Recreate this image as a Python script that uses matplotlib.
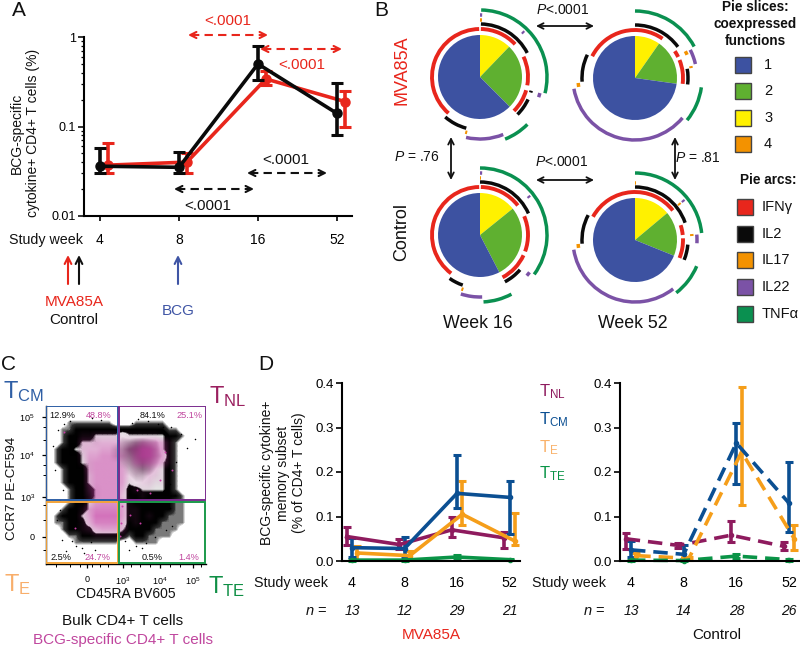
import numpy as np
import matplotlib
matplotlib.use('Agg')
import matplotlib.pyplot as plt
from matplotlib.patches import Arc, Rectangle
from matplotlib.colors import LinearSegmentedColormap, to_rgb

plt.rcParams['font.family'] = ['Liberation Sans', 'DejaVu Sans']
plt.rcParams['mathtext.fontset'] = 'custom'
plt.rcParams['mathtext.rm'] = 'Liberation Sans'
plt.rcParams['mathtext.it'] = 'Liberation Sans:italic'
plt.rcParams['mathtext.default'] = 'regular'

# ---------- Panel A data ----------
WEEKS = ['4', '8', '16', '52']
A_MVA = [0.037, 0.040, 0.34, 0.19]
A_MVA_LO = [0.030, 0.030, 0.29, 0.10]
A_MVA_HI = [0.066, 0.050, 0.42, 0.25]
A_CTL = [0.036, 0.035, 0.50, 0.14]
A_CTL_LO = [0.030, 0.030, 0.33, 0.08]
A_CTL_HI = [0.058, 0.052, 0.80, 0.31]

# ---------- Panel B data (slices: 3, 2, 1 clockwise from top; arcs in degrees clockwise from top) ----------
SLICE_NAMES = ['1', '2', '3', '4']
ARC_NAMES = ['IFN\u03b3', 'IL2', 'IL17', 'IL22', 'TNF\u03b1']
MVA16_SLICES = [12.2, 25.3, 62.5]
MVA52_SLICES = [9.7, 17.5, 72.8]
CTL16_SLICES = [14.2, 28.2, 57.6]
CTL52_SLICES = [13.9, 17.2, 68.9]
MVA16_ARCS = {'IFN\u03b3': [(1, 47), (65, 100), (106, 135), (221, 359)],
              'IL2': [(1, 63), (105, 107), (115, 135), (195, 221)],
              'IL17': [(0, 2), (193, 195)],
              'IL22': [(0, 2), (43, 45), (105, 109), (158, 193)],
              'TNF\u03b1': [(1, 104), (135, 158)]}
MVA52_ARCS = {'IFN\u03b3': [(297, 395), (56, 64), (68, 97)],
              'IL2': [(0, 54), (80, 97), (266, 296)],
              'IL17': [(62, 66), (78, 80), (261, 265)],
              'IL22': [(63, 77), (130, 260)],
              'TNF\u03b1': [(0, 62), (98, 129)]}
CTL16_ARCS = {'IFN\u03b3': [(1, 52), (67, 110), (115, 152), (217, 359)],
              'IL2': [(0, 66), (131, 152), (199, 215)],
              'IL17': [(0, 1), (197, 199)],
              'IL22': [(0, 2), (51, 53), (127, 131), (178, 198)],
              'TNF\u03b1': [(0, 126), (152, 177)]}
CTL52_ARCS = {'IFN\u03b3': [(299, 412), (72, 84), (88, 112)],
              'IL2': [(0, 71), (95, 112), (266, 298)],
              'IL17': [(0, 1), (50, 52), (84, 86), (262, 266)],
              'IL22': [(50, 52), (85, 93), (142, 261)],
              'TNF\u03b1': [(0, 84), (113, 142)]}

# ---------- Panel C data: density on a coarse grid (digit = shade) ----------
BULK_GRID = [
    "000000000000000000000000", "000000000000000000000000",
    "000111111100011111000000", "001122222222222222110000",
    "001222233334333333221000", "001223334445677653210000",
    "012233444456899863210000", "012223444456789864210000",
    "012223344445678753210000", "001222344444567643210000",
    "001222344444455433210000", "001222344444344333210000",
    "000122234444223333210000", "000122234444222222221000",
    "000122334444222222211000", "001222344444222222211000",
    "012223444444222222111000", "011222444444222221111000",
    "001222244443222211110000", "000112222222122111100000",
    "000011111110011110000000", "000000000000000000000000",
    "000000000000000000000000", "000000000000000000000000"]
SPECIFIC_GRID = [
    "000000000000000000000000", "000000000000000000000000",
    "000000000000000000000000", "000000000000000000000000",
    "000001122221111110000000", "000003344443346664100000",
    "000003445554579975100000", "000002556665479975100000",
    "000001566664367764100000", "000000566665233431000000",
    "000000466665222321000000", "000000466665112211000000",
    "000000366664011100000000", "000000266663001000000000",
    "000000256664100000000000", "000001577775110000000000",
    "000002588885110100000000", "000001477774010000000000",
    "000001245553000000000000", "000000011111000000000000",
    "000000000000000000000000", "000000000000000000000000",
    "000000000000000000000000", "000000000000000000000000"]
# a few isolated events
STRAY_BLACK_X = [195, 187, 181, 171, 176, 170, 53, 55, 58, 60, 57, 62, 64, 66, 70, 76, 84, 95, 101, 92, 132, 138, 148, 158, 163, 167, 170, 172, 125, 136, 146, 155, 166, 60, 63, 72, 82, 91, 129, 142]
STRAY_BLACK_Y = [439, 448, 434, 427, 462, 484, 446, 470, 430, 500, 520, 540, 424, 551, 421, 546, 553, 550, 420, 418, 423, 419, 421, 424, 427, 490, 508, 526, 541, 546, 543, 537, 530, 510, 490, 541, 548, 542, 550, 548]
STRAY_PINK_X = [122, 130, 121, 140, 160, 172, 120, 137, 150, 165, 64, 75]
STRAY_PINK_Y = [506, 515, 523, 523, 480, 470, 536, 490, 493, 452, 432, 528]
C_XTICKS = ['0', '$10^3$', '$10^4$', '$10^5$']
C_YTICKS = ['$10^5$', '$10^4$', '$10^3$', '0']
C_BULK_PCT = ['12.9%', '84.1%', '2.5%', '0.5%']
C_SPEC_PCT = ['48.8%', '25.1%', '24.7%', '1.4%']

# ---------- Panel D data ----------
D_NAMES = ['NL', 'CM', 'E', 'TE']
L_TNL = [0.055, 0.037, 0.070, 0.052]; L_TNL_LO = [0.035, 0.028, 0.053, 0.030]; L_TNL_HI = [0.077, 0.050, 0.100, 0.065]
L_TCM = [0.030, 0.028, 0.152, 0.143]; L_TCM_LO = [0.008, 0.008, 0.118, 0.060]; L_TCM_HI = [0.052, 0.055, 0.238, 0.180]
L_TE = [0.018, 0.012, 0.105, 0.045]; L_TE_LO = [0.003, 0.003, 0.080, 0.037]; L_TE_HI = [0.033, 0.022, 0.180, 0.107]
L_TTE = [0.002, 0.002, 0.009, 0.003]; L_TTE_LO = [0.001, 0.001, 0.005, 0.002]; L_TTE_HI = [0.004, 0.003, 0.014, 0.005]
R_TNL = [0.050, 0.035, 0.058, 0.033]; R_TNL_LO = [0.028, 0.030, 0.043, 0.025]; R_TNL_HI = [0.064, 0.040, 0.090, 0.042]
R_TCM = [0.025, 0.015, 0.265, 0.130]; R_TCM_LO = [0.008, 0.004, 0.172, 0.065]; R_TCM_HI = [0.045, 0.035, 0.310, 0.222]
R_TE = [0.012, 0.006, 0.245, 0.050]; R_TE_LO = [0.002, 0.002, 0.125, 0.025]; R_TE_HI = [0.018, 0.010, 0.390, 0.082]
R_TTE = [0.002, 0.001, 0.011, 0.003]; R_TTE_LO = [0.001, 0.000, 0.006, 0.001]; R_TTE_HI = [0.003, 0.002, 0.015, 0.004]
L_N = ['13', '12', '29', '21']
R_N = ['13', '14', '28', '26']

RED = '#E8261C'; BLUEARROW = '#3F55A5'; PINK = '#C0469E'
C_TNL = '#8E1B5E'; C_TCM = '#0B4F92'; C_TE = '#F59E1A'; C_TTE = '#0A9447'
SLICE_COLORS = ['#3D52A1', '#5FB030', '#FFF100', '#F39200']
ARC_COLORS = ['#E8261C', '#0A0A0A', '#F39200', '#7B52A6', '#0A9050']
ARC_RADII = [48, 53, 57, 62, 67]

W, H = 800, 650
fig = plt.figure(figsize=(8, 6.5), dpi=100)


def box(l, t, r, b, **kw):
    return fig.add_axes([l / W, 1 - b / H, (r - l) / W, (b - t) / H], **kw)


ov = fig.add_axes([0, 0, 1, 1], zorder=20)
ov.set_xlim(0, W); ov.set_ylim(H, 0); ov.axis('off'); ov.patch.set_alpha(0)


def T(x, y, s, size=10, color='#111111', ha='center', va='center', **kw):
    ov.text(x, y, s, fontsize=size, color=color, ha=ha, va=va, **kw)


def arrow(x0, y0, x1, y1, color='#111111', style='<->', lw=1.3, ms=11):
    ov.annotate('', xy=(x1, y1), xytext=(x0, y0),
                arrowprops=dict(arrowstyle=style, color=color, lw=lw, mutation_scale=ms,
                                shrinkA=0, shrinkB=0))


def dashed(x0, x1, y, color):
    ov.plot([x0 + 3, x1 - 3], [y, y], color=color, lw=1.5, ls=(0, (4, 2.5)))
    arrow(x0 + 7, y, x0, y, color=color, style='->', lw=1.5, ms=11)
    arrow(x1 - 7, y, x1, y, color=color, style='->', lw=1.5, ms=11)


# ---------- Panel A ----------
axA = box(84, 37, 352, 216)
axA.set_yscale('log')
axA.set_ylim(0.01, 1)
axA.set_xlim(-0.2025, 3.19)
xA = np.arange(4)
for vals, lo, hi, col, off, z in [(A_MVA, A_MVA_LO, A_MVA_HI, RED, 0.1, 2), (A_CTL, A_CTL_LO, A_CTL_HI, '#0A0A0A', 0, 3)]:
    v = np.array(vals)
    axA.errorbar(xA + off, v, yerr=[v - np.array(lo), np.array(hi) - v], color=col, lw=2.6,
                 elinewidth=2.6, capsize=4, capthick=2.2, marker='o', ms=6.5, zorder=z, clip_on=False)
for s in ['top', 'right']:
    axA.spines[s].set_visible(False)
for s in ['left', 'bottom']:
    axA.spines[s].set_linewidth(1.5)
axA.set_yticks([0.01, 0.1, 1])
axA.set_yticklabels(['0.01', '0.1', '1'], fontsize=9)
axA.tick_params(axis='y', which='major', length=4, width=1.2, pad=2, color='#111111')
axA.tick_params(axis='y', which='minor', length=2.5, width=0.9)
axA.set_xticks(xA)
axA.set_xticklabels(WEEKS, fontsize=10)
axA.tick_params(axis='x', length=3.5, width=1.2, pad=9)
T(46, 240, 'Study week', 10.3)
T(19, 10, 'A', 15)
T(25, 133, 'BCG-specific\ncytokine+ CD4+ T cells (%)', 10, rotation=90, linespacing=1.25)
T(228, 21, '<.0001', 11, RED); T(302, 65, '<.0001', 11, RED)
T(286, 160, '<.0001', 11); T(208, 206, '<.0001', 11)
dashed(188, 268, 35, RED); dashed(260, 342, 49, RED)
dashed(174, 254, 189, '#111111'); dashed(247, 327, 173, '#111111')
arrow(68, 284, 68, 255, RED, '->', 1.5, 12)
arrow(79, 284, 79, 255, '#111111', '->', 1.5, 12)
arrow(178, 284, 178, 255, BLUEARROW, '->', 1.5, 12)
T(74, 302, 'MVA85A', 11, RED); T(74, 320, 'Control', 11)
T(178, 311, 'BCG', 11, BLUEARROW)

# ---------- Panel B ----------


def pie_panel(cx, cy, slices, arcs):
    half = 72
    ax = box(cx - half, cy - half, cx + half, cy + half)
    ax.pie(slices, colors=SLICE_COLORS[2::-1], startangle=90, counterclock=False, radius=42,
           wedgeprops=dict(linewidth=0))
    ax.set_xlim(-half, half); ax.set_ylim(-half, half)
    ax.set_aspect('equal'); ax.axis('off')
    for name, col, r in zip(ARC_NAMES, ARC_COLORS, ARC_RADII):
        for a0, a1 in arcs[name]:
            p = Arc((0, 0), 2 * r, 2 * r, theta1=90 - a1, theta2=90 - a0, color=col,
                    lw=2.8 if name == 'IFN\u03b3' else 2.5, capstyle='butt')
            ax.add_patch(p)


pie_panel(480, 77, MVA16_SLICES, MVA16_ARCS)
pie_panel(635, 78, MVA52_SLICES, MVA52_ARCS)
pie_panel(480, 235, CTL16_SLICES, CTL16_ARCS)
pie_panel(635, 240, CTL52_SLICES, CTL52_ARCS)
T(381, 10, 'B', 15)
T(402, 70, 'MVA85A', 13, RED, rotation=90)
T(402, 232, 'Control', 13, rotation=90)
T(478, 324, 'Week 16', 12.8); T(633, 324, 'Week 52', 12.8)
T(563, 10, '$\\mathit{P}$<.0001', 10); T(562, 162, '$\\mathit{P}$<.0001', 10)
T(417, 157, '$\\mathit{P}$ = .76', 10); T(698, 158, '$\\mathit{P}$ = .81', 10)
arrow(536, 26, 594, 26, ms=10); arrow(536, 180, 594, 180, ms=10)
arrow(451, 137, 451, 180, ms=10); arrow(675, 137, 675, 180, ms=10)
T(755, 24, 'Pie slices:\ncoexpressed\nfunctions', 9.8, fontweight='bold', linespacing=1.28)
T(768, 180, 'Pie arcs:', 9.8, fontweight='bold')
for name, col, yc in zip(SLICE_NAMES, SLICE_COLORS, [65, 91, 118, 144]):
    ov.add_patch(Rectangle((735, yc - 8), 16, 16, fc=col, ec='#444444', lw=1))
    T(764, yc, name, 10.5, ha='left')
for name, col, yc in zip(ARC_NAMES, ARC_COLORS, [207, 234, 260, 287, 314]):
    ov.add_patch(Rectangle((737, yc - 8), 16, 16, fc=col, ec='#444444', lw=1))
    T(762, yc, name, 10.5, ha='left')

# ---------- Panel C ----------
axC = box(46, 406, 206, 564)
extent = (46, 206, 566, 406)
bulk_cmap = LinearSegmentedColormap.from_list('bulk', [
    (0 / 9, '#ffffff'), (0.6 / 9, '#ffffff'), (1.2 / 9, '#303030'), (2 / 9, '#000000'), (2.6 / 9, '#000000'),
    (3 / 9, '#e4e4e4'), (4 / 9, '#f0f0f0'),
    (5 / 9, '#c4c4c4'), (6 / 9, '#a0a0a0'), (7 / 9, '#7c7c7c'), (8 / 9, '#555555'), (9 / 9, '#383838')])
bulk = np.array([[int(ch) for ch in row] for row in BULK_GRID], dtype=float)
spec = np.array([[int(ch) for ch in row] for row in SPECIFIC_GRID], dtype=float)
axC.imshow(bulk, cmap=bulk_cmap, vmin=0, vmax=9, extent=extent, aspect='auto', interpolation='bilinear', zorder=1)
rgba = np.zeros(spec.shape + (4,))
rgba[..., :3] = to_rgb('#C83FA6')
rgba[..., 3] = np.clip(spec / 9.0, 0, 1) * 0.8
axC.imshow(rgba, extent=extent, aspect='auto', interpolation='bilinear', zorder=2)
axC.scatter(STRAY_BLACK_X, STRAY_BLACK_Y, s=1.2, c='#000000', lw=0, zorder=3)
axC.scatter(STRAY_PINK_X, STRAY_PINK_Y, s=2, c='#C83FA6', lw=0, zorder=3)
axC.set_xlim(46, 206); axC.set_ylim(564, 406)
axC.set_xticks([87, 123, 160, 193]); axC.set_xticklabels(C_XTICKS, fontsize=6.5)
axC.set_yticks([417, 455, 497, 537]); axC.set_yticklabels(C_YTICKS, fontsize=6.5)
axC.tick_params(length=3, width=0.9, pad=5)
axC.set_xticks([56, 70, 80, 92, 100, 108, 131, 140, 150, 170, 180, 201], minor=True)
axC.set_yticks([427, 440, 465, 475, 505, 520, 550], minor=True)
axC.tick_params(which='minor', length=2, width=0.7)
for s in ['top', 'right']:
    axC.spines[s].set_visible(False)
for s in ['left', 'bottom']:
    axC.spines[s].set_linewidth(1.0)
for (x0, y0, x1, y1, col) in [(46.5, 406, 117.7, 500, '#2F5FA5'), (119.3, 406, 205.5, 500, '#7B2D8E'),
                              (46.5, 502, 117.7, 562.7, '#F2A33A'), (119.3, 502, 205, 562.7, '#1B9A4B')]:
    axC.add_patch(Rectangle((x0, y0), x1 - x0, y1 - y0, fc='none', ec=col, lw=1.4, zorder=4))
for (x, y), s in zip([(62, 415), (153, 415), (61, 557), (152, 557)], C_BULK_PCT):
    T(x, y, s, 6.6)
for (x, y), s in zip([(98.5, 415), (190, 415), (97.5, 557), (189, 557)], C_SPEC_PCT):
    T(x, y, s, 6.6, PINK)
T(8, 364, 'C', 15)
T(3, 392, 'T$_{CM}$', 17, '#2F5FA5', ha='left')
T(209, 397, 'T$_{NL}$', 17, '#9A1F5F', ha='left')
T(4, 585, 'T$_{E}$', 17, '#F8AE6B', ha='left')
T(208, 587, 'T$_{TE}$', 17, '#0F8F45', ha='left')
T(12, 488, 'CCR7 PE-CF594', 9.7, rotation=90)
T(126, 594, 'CD45RA BV605', 10)
T(123, 621, 'Bulk CD4+ T cells', 11)
T(123, 640, 'BCG-specific CD4+ T cells', 11, PINK)

# ---------- Panel D ----------


def panel_d(l, r, x0, unit, series, dash, offs):
    ax = box(l, 383, r, 561)
    ax.set_xlim((l - x0) / unit, (r - x0) / unit)
    ax.set_ylim(0, 0.4)
    xs = np.arange(4)
    for (vals, lo, hi, col), off in zip(series, offs):
        v = np.array(vals)
        ax.errorbar(xs + off, v, yerr=[v - np.array(lo), np.array(hi) - v], color=col, lw=2.6,
                    ls=(0, (4, 2.2)) if dash else '-', elinewidth=2.6, capsize=2.6, capthick=2.2,
                    marker='o', ms=3, clip_on=False)
    for s in ['top', 'right']:
        ax.spines[s].set_visible(False)
    for s in ['left', 'bottom']:
        ax.spines[s].set_linewidth(1.5)
    ax.set_yticks([0, 0.1, 0.2, 0.3, 0.4])
    ax.set_yticklabels(['0.0', '0.1', '0.2', '0.3', '0.4'], fontsize=9.5)
    ax.tick_params(axis='y', length=4, width=1.2, pad=2)
    ax.set_xticks(xs)
    ax.set_xticklabels(WEEKS, fontsize=10.3)
    ax.tick_params(axis='x', length=0, pad=11)
    return ax


left_series = [(L_TNL, L_TNL_LO, L_TNL_HI, C_TNL), (L_TE, L_TE_LO, L_TE_HI, C_TE),
               (L_TTE, L_TTE_LO, L_TTE_HI, C_TTE), (L_TCM, L_TCM_LO, L_TCM_HI, C_TCM)]
right_series = [(R_TNL, R_TNL_LO, R_TNL_HI, C_TNL), (R_TE, R_TE_LO, R_TE_HI, C_TE),
                (R_TTE, R_TTE_LO, R_TTE_HI, C_TTE), (R_TCM, R_TCM_LO, R_TCM_HI, C_TCM)]
panel_d(342, 520, 352, 52.5, left_series, False, [-0.1, 0.1, 0, 0])
panel_d(620, 800, 631, 52.67, right_series, True, [-0.1, 0.1, 0, 0])
T(266, 364, 'D', 15)
T(283, 473, 'BCG-specific cytokine+\nmemory subset\n(% of CD4+ T cells)', 10, rotation=90, linespacing=1.22)
T(254, 583, 'Study week', 10.3, ha='left'); T(532, 583, 'Study week', 10.3, ha='left')
T(327, 611, '$\\mathit{n}$ =', 10.5, ha='right'); T(605, 611, '$\\mathit{n}$ =', 10.5, ha='right')
for i in range(4):
    T(352 + 52.5 * i, 611, L_N[i], 10, style='italic')
    T(631 + 52.67 * i, 611, R_N[i], 10, style='italic')
T(431, 635, 'MVA85A', 11, RED); T(717, 635, 'Control', 11)
for name, col, yc in zip(D_NAMES, [C_TNL, C_TCM, '#F9B26B', C_TTE], [392, 420, 448, 474]):
    T(539, yc, 'T$_{%s}$' % name, 12, col, ha='left')

fig.savefig('out.png', dpi=100)
